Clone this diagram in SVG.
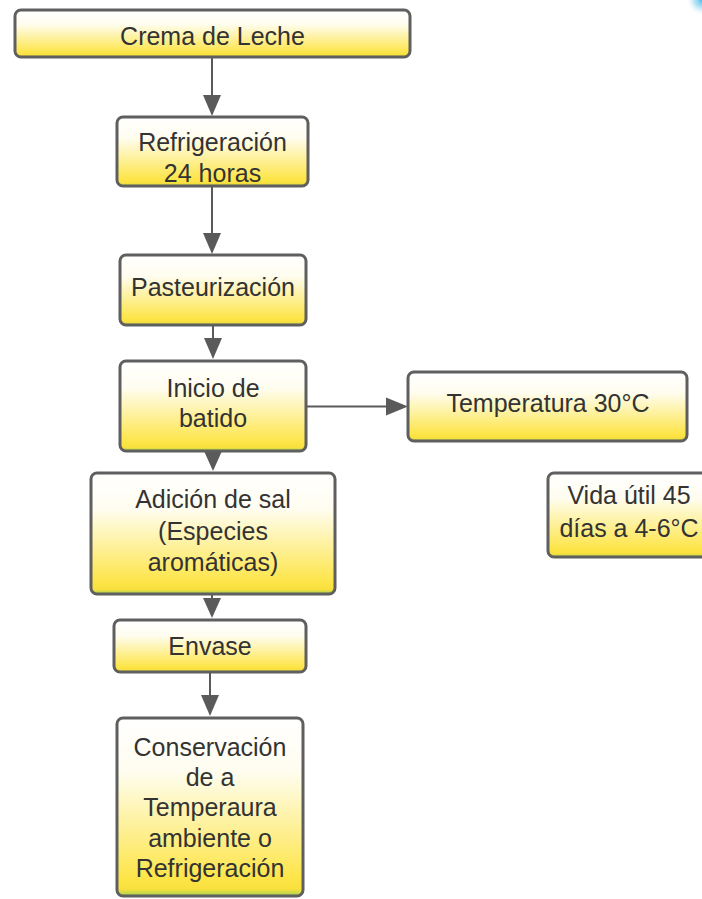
<svg xmlns="http://www.w3.org/2000/svg" width="702" height="899" viewBox="0 0 702 899">
<style>
.box{fill:url(#yg);stroke:#5f5f5f;stroke-width:3}
.t{font-family:"Liberation Sans",Arial,sans-serif;font-size:25px;fill:#333333;text-anchor:middle}
.ln{stroke:#5a5a5a;stroke-width:2;fill:none}
.hd{fill:#5a5a5a}
</style>
<defs>
<linearGradient id="yg" x1="0" y1="0" x2="0" y2="1">
<stop offset="0" stop-color="#ffffff"/>
<stop offset="0.3" stop-color="#fffdf0"/>
<stop offset="0.9" stop-color="#fde549"/>
<stop offset="0.96" stop-color="#fae03d"/>
<stop offset="1" stop-color="#a6d24e"/>
</linearGradient>
<radialGradient id="bl" cx="1" cy="0" r="1">
<stop offset="0" stop-color="#4fbbec"/>
<stop offset="0.5" stop-color="#9fdaf4" stop-opacity="0.7"/>
<stop offset="1" stop-color="#ffffff" stop-opacity="0"/>
</radialGradient>
</defs>
<rect x="686" y="0" width="16" height="16" fill="url(#bl)"/>
<g id="connectors">
<path class="ln" d="M212,57 V97"/>
<path class="hd" d="M203,95 L221,95 L212,116 z"/>
<path class="ln" d="M212,186 V235"/>
<path class="hd" d="M203,233 L221,233 L212,254 z"/>
<path class="ln" d="M213,325 V340"/>
<path class="hd" d="M204,338 L222,338 L213,359 z"/>
<path class="ln" d="M306,406.5 H388"/>
<path class="hd" d="M386,397.5 L408,406.5 L386,415.5 z"/>
<path class="hd" d="M204,451 L222,451 L213,471 z"/>
<path class="ln" d="M212,594 V600"/>
<path class="hd" d="M203,598 L221,598 L212,618 z"/>
<path class="ln" d="M210,672 V697"/>
<path class="hd" d="M201,695 L219,695 L210,716 z"/>
</g>
<g id="n1">
<rect class="box" x="15" y="10" width="395" height="47" rx="6"/>
<text class="t" x="212.5" y="45">Crema de Leche</text>
</g>
<g id="n2">
<rect class="box" x="117" y="117" width="191" height="69" rx="6"/>
<text class="t" x="212.5" y="151">Refrigeración</text>
<text class="t" x="212.5" y="182">24 horas</text>
</g>
<g id="n3">
<rect class="box" x="120" y="255" width="186" height="70" rx="6"/>
<text class="t" x="213" y="296">Pasteurización</text>
</g>
<g id="n4">
<rect class="box" x="120" y="361" width="186" height="90" rx="6"/>
<text class="t" x="213" y="397">Inicio de</text>
<text class="t" x="213" y="427">batido</text>
</g>
<g id="n5">
<rect class="box" x="408" y="372" width="279" height="69" rx="6"/>
<text class="t" x="548" y="412">Temperatura 30°C</text>
</g>
<g id="n6">
<rect class="box" x="548" y="473" width="162" height="84" rx="6"/>
<text class="t" x="629" y="504">Vida útil 45</text>
<text class="t" x="629" y="537">días a 4-6°C</text>
</g>
<g id="n7">
<rect class="box" x="91" y="473" width="244" height="121" rx="6"/>
<text class="t" x="213" y="508">Adición de sal</text>
<text class="t" x="213" y="540">(Especies</text>
<text class="t" x="213" y="571">aromáticas)</text>
</g>
<g id="n8">
<rect class="box" x="114" y="620" width="192" height="52" rx="6"/>
<text class="t" x="210" y="655">Envase</text>
</g>
<g id="n9">
<rect class="box" x="117" y="718" width="186" height="178" rx="6"/>
<text class="t" x="210" y="756">Conservación</text>
<text class="t" x="210" y="786">de a</text>
<text class="t" x="210" y="816">Temperaura</text>
<text class="t" x="210" y="847">ambiente o</text>
<text class="t" x="210" y="877">Refrigeración</text>
</g>
</svg>
